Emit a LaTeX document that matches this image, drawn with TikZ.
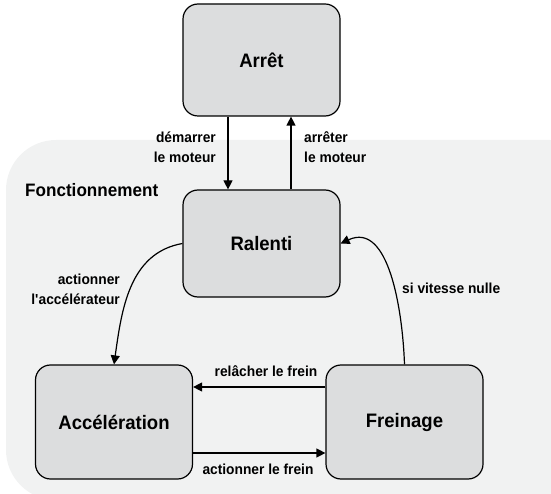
\documentclass[tikz,border=0pt]{standalone}
\usepackage{fontspec}
\setmainfont{Liberation Sans}[FakeStretch=0.95]
\usetikzlibrary{arrows.meta}
\definecolor{zonefill}{HTML}{F1F2F2}
\definecolor{statefill}{HTML}{DCDDDE}
\begin{document}
\begin{tikzpicture}[x=1pt,y=-1pt,
  state/.style={draw=black,line width=1.2pt,fill=statefill,rounded corners=15pt,
    minimum width=157pt,minimum height=112pt,inner sep=0pt,
    font=\fontsize{19.5}{23}\selectfont\bfseries},
  trans/.style={line width=1.2pt,-{Triangle[length=9pt,width=9pt]}},
  lbl/.style={font=\fontsize{14.5}{20}\selectfont\bfseries,inner sep=0pt},
  zone/.style={fill=zonefill,rounded corners=50pt}]
\useasboundingbox (0,0) rectangle (551,494);
% operating zone, running off the right and bottom edges
\begin{scope}
\clip (0,0) rectangle (551,494);
\fill[zone] (6,140) rectangle (600,500);
\end{scope}
\node[anchor=west,inner sep=0pt,font=\fontsize{18}{21}\selectfont\bfseries] (zonelabel) at (25,190) {Fonctionnement};

% states
\node[state] (arret) at (261.5,60) {Arrêt};
\node[state,minimum height=107pt] (ral) at (261.5,243.5) {Ralenti};
\node[state,minimum height=114pt] (acc) at (114,422) {Accélération};
\node[state,minimum height=114pt] (frein) at (404.5,422) {Freinage};

% transitions
\draw[trans] (arret.south -| 228,0) -- (ral.north -| 228,0);
\draw[trans] (ral.north -| 291,0) -- (arret.south -| 291,0);
\node[lbl,anchor=east,align=right] (lstart) at (216,147) {démarrer\\le moteur};
\node[lbl,anchor=west,align=left] (lstop) at (304,147) {arrêter\\le moteur};

\draw[trans] (ral.west) to[out=190,in=82] (acc.north);
\node[lbl,anchor=east,align=right] (laccel) at (120,289) {actionner\\l\textquotesingle accélérateur};

\draw[trans] (frein.north) to[out=92,in=25] (ral.east);
\node[lbl,anchor=west] (lnulle) at (402,288) {si vitesse nulle};

\draw[trans] (frein.west |- 0,387) -- (acc.east |- 0,387);
\node[lbl] (lrel) at (266,371) {relâcher le frein};
\draw[trans] (acc.east |- 0,453) -- (frein.west |- 0,453);
\node[lbl] (lact) at (258,469) {actionner le frein};
\end{tikzpicture}
\end{document}
